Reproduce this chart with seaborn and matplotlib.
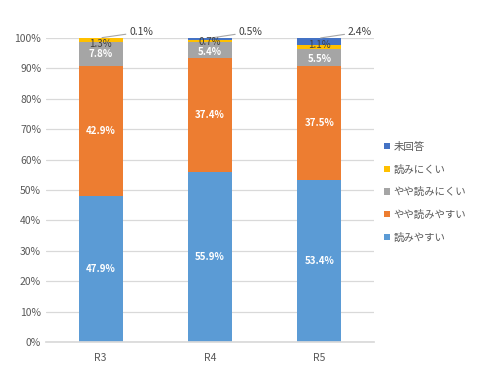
import numpy as np
import pandas as pd
import matplotlib
matplotlib.use("Agg")
import matplotlib.pyplot as plt
import matplotlib.ticker as mticker
from matplotlib.patches import Patch
import seaborn as sns

sns.set_theme(style="white")
plt.rcParams["font.family"] = ["Noto Sans CJK JP", "DejaVu Sans"]

# datos
anios   = ["R3", "R4", "R5"]
series  = ["読みやすい", "やや読みやすい", "やや読みにくい", "読みにくい", "未回答"]
colores = ["#5B9BD5", "#ED7D31", "#A5A5A5", "#FFC000", "#4472C4"]
yomiyasui      = [47.9, 55.9, 53.4]
yaya_yasui     = [42.9, 37.4, 37.5]
yaya_nikui     = [7.8, 5.4, 5.5]
yominikui      = [1.3, 0.7, 1.1]
mikaito        = [0.1, 0.5, 2.4]
valores = [yomiyasui, yaya_yasui, yaya_nikui, yominikui, mikaito]

filas = []
for s, vals in zip(series, valores):
    for a, v in zip(anios, vals):
        filas.append({"anio": a, "serie": s, "valor": v})
df = pd.DataFrame(filas)
df["serie"] = pd.Categorical(df["serie"], categories=series, ordered=True)
df = df.sort_values(["anio", "serie"])
df["acum"] = df.groupby("anio")["valor"].cumsum()
df["base"] = df["acum"] - df["valor"]

fig = plt.figure(figsize=(5, 3.9), dpi=100)
ax = fig.add_axes([0.092, 0.123, 0.656, 0.78])

# barras apiladas: se dibuja el acumulado de arriba hacia abajo
for s, c in reversed(list(zip(series, colores))):
    sub = df[df["serie"] == s]
    sns.barplot(data=sub, x="anio", y="acum", order=anios, color=c,
                width=0.4, saturation=1, errorbar=None, linewidth=0, ax=ax, zorder=2)

ax.set_ylim(0, 100)
ax.set_xlim(-0.5, 2.5)
ax.yaxis.set_major_locator(mticker.MultipleLocator(10))
ax.yaxis.set_major_formatter(mticker.FuncFormatter(lambda x, _: f"{x:.0f}%"))
ax.grid(axis="y", color="#D9D9D9", lw=0.9, zorder=0)
ax.set_axisbelow(True)
for sp in ["top", "right", "left"]:
    ax.spines[sp].set_visible(False)
ax.spines["bottom"].set_color("#D9D9D9")
ax.tick_params(axis="both", length=0, labelsize=7.5, colors="#595959")
ax.tick_params(axis="x", pad=8)
ax.set_xlabel(""); ax.set_ylabel("")

# ajustes verticales de las etiquetas chicas (como las acomoda Excel)
desp_gris     = [0.0, -0.6, -0.65]
desp_amarillo = [-1.2, -0.35, 0.75]

# etiquetas
for i, a in enumerate(anios):
    d = df[df["anio"] == a].set_index("serie")
    for s in series[:3]:
        r = d.loc[s]
        dy = desp_gris[i] if s == "やや読みにくい" else 0
        ax.text(i, r["base"] + r["valor"] / 2 + dy, f"{r['valor']:.1f}%", ha="center", va="center",
                color="white", fontsize=7, fontweight="bold", zorder=4)
    r = d.loc["読みにくい"]
    ax.text(i, r["base"] + r["valor"] / 2 + desp_amarillo[i], f"{r['valor']:.1f}%", ha="center",
            va="center", color="#404040", fontsize=7, zorder=4)
    r = d.loc["未回答"]
    ax.annotate(f"{r['valor']:.1f}%", xy=(i, r["acum"]), xytext=(i + 0.26, 101.9),
                ha="left", va="center", fontsize=7.5, color="#404040",
                annotation_clip=False,
                arrowprops=dict(arrowstyle="-", color="#A6A6A6", lw=0.8,
                                shrinkA=0, shrinkB=1))

handles = [Patch(facecolor=c, edgecolor="none") for c in colores]
fig.legend(handles[::-1], series[::-1], loc="upper left", bbox_to_anchor=(0.75, 0.66),
           frameon=False, fontsize=7.5, handlelength=0.55, handleheight=0.55,
           labelspacing=1.2, handletextpad=0.3, labelcolor="#595959")

plt.savefig("out.png", dpi=100)
plt.close()
